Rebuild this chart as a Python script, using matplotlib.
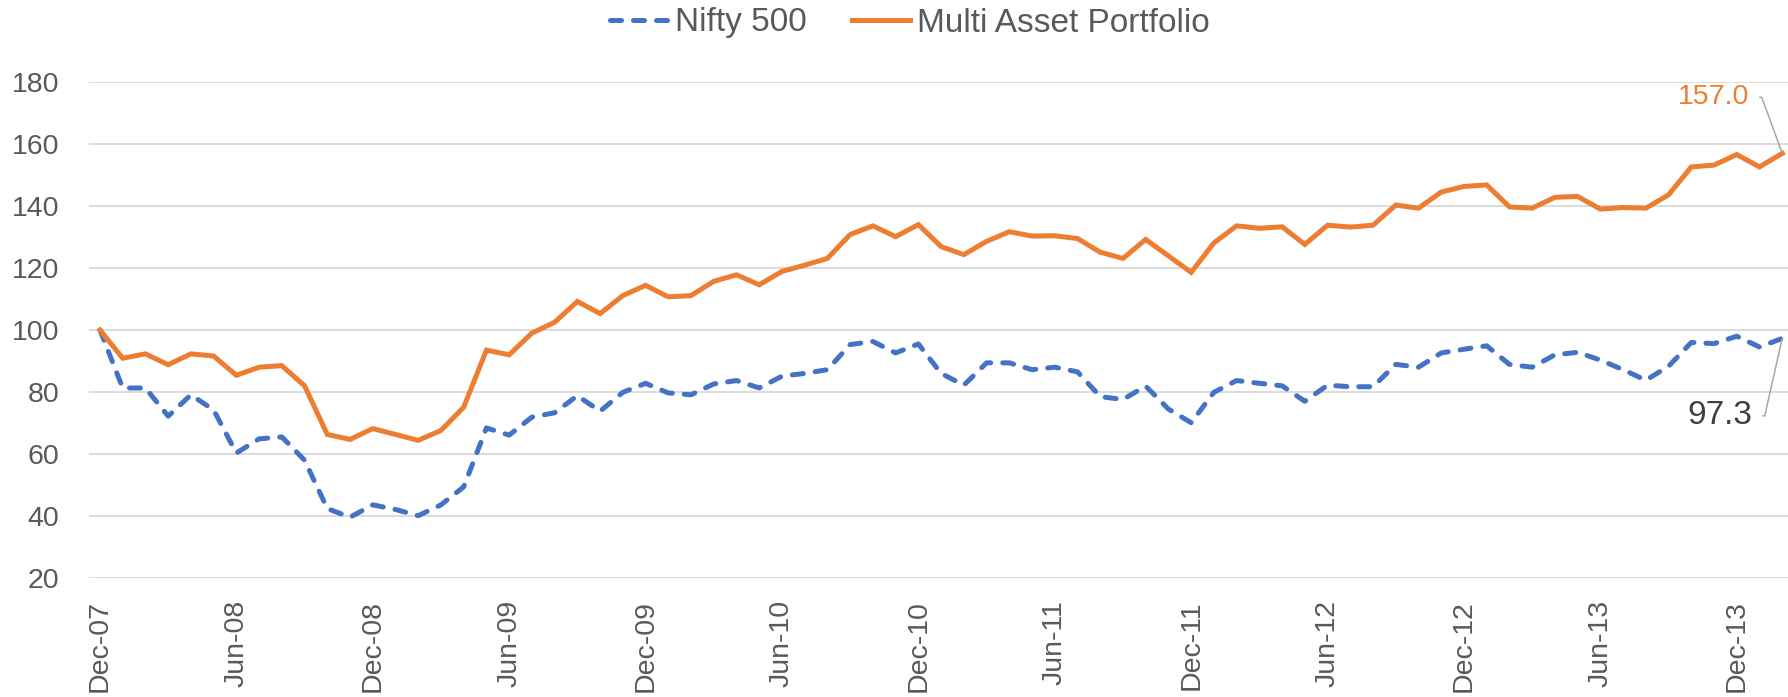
import matplotlib.pyplot as plt

# monthly index values, Dec-07 .. Feb-14
tick_labels = ["Dec-07", "Jun-08", "Dec-08", "Jun-09", "Dec-09", "Jun-10", "Dec-10",
               "Jun-11", "Dec-11", "Jun-12", "Dec-12", "Jun-13", "Dec-13"]

nifty500 = [100.0, 81.3, 81.3, 72.2, 79.1, 74.2, 60.3, 64.9, 65.5, 58.0,
            42.4, 39.6, 43.6, 42.1, 40.1, 43.6, 49.4, 68.4, 66.1, 71.9,
            73.3, 78.8, 73.8, 79.9, 82.8, 79.7, 79.1, 82.6, 83.7, 81.3,
            85.1, 86.0, 87.2, 95.3, 96.3, 92.6, 95.5, 86.0, 82.2, 89.4,
            89.4, 87.2, 88.0, 86.5, 78.5, 77.6, 81.9, 74.5, 70.1, 79.9,
            83.7, 82.8, 82.0, 77.0, 82.2, 81.7, 81.7, 88.9, 88.0, 92.6,
            93.8, 94.9, 88.9, 88.0, 92.0, 92.8, 90.3, 87.2, 83.8, 88.3,
            96.0, 95.6, 98.0, 94.5, 97.3]

multi_asset = [100.0, 90.9, 92.3, 88.8, 92.3, 91.6, 85.4, 88.0, 88.5, 82.0,
               66.3, 64.7, 68.2, 66.3, 64.4, 67.6, 75.1, 93.5, 92.0, 99.0,
               102.5, 109.2, 105.3, 111.1, 114.4, 110.7, 111.1, 115.7, 117.8, 114.6,
               118.9, 120.9, 123.1, 130.8, 133.6, 130.1, 134.0, 126.9, 124.3, 128.6,
               131.7, 130.3, 130.4, 129.5, 125.1, 123.1, 129.2, 123.9, 118.6, 128.1,
               133.6, 132.8, 133.3, 127.6, 133.8, 133.2, 133.8, 140.3, 139.3, 144.5,
               146.3, 146.8, 139.7, 139.3, 142.8, 143.1, 139.0, 139.5, 139.3, 143.6,
               152.6, 153.2, 156.6, 152.6, 157.0]

BLUE = "#4472C4"
ORANGE = "#ED7D31"
GREY = "#595959"

plt.rcParams["font.family"] = ["Liberation Sans", "DejaVu Sans"]

fig = plt.figure(figsize=(17.88, 6.97), dpi=100)
ax = fig.add_axes([88.6 / 1788, 1 - 578 / 697, (1793.6 - 88.6) / 1788, 496 / 697])

x = list(range(len(nifty500)))
ax.plot(x, nifty500, color=BLUE, lw=3.6, dashes=(2.2, 2.4),
        dash_capstyle="round", label="Nifty 500")
ax.plot(x, multi_asset, color=ORANGE, lw=3.6, solid_joinstyle="miter",
        label="Multi Asset Portfolio")

ax.set_xlim(-0.5, len(x) - 0.5)
ax.set_ylim(20, 180)
ax.set_yticks(range(20, 181, 20))
ax.set_xticks(range(0, 6 * len(tick_labels), 6))
ax.set_xticklabels(tick_labels, rotation=90)
ax.tick_params(axis="both", length=0, labelsize=20.5, labelcolor=GREY)
ax.tick_params(axis="y", pad=21)
ax.tick_params(axis="x", pad=16)
ax.grid(axis="y", color="#d9d9d9", lw=1.3)
ax.set_axisbelow(True)
for s in ax.spines.values():
    s.set_visible(False)

leader = dict(arrowstyle="-", color="#a6a6a6", lw=1.1, shrinkA=5.5, shrinkB=0,
              relpos=(1, 0.5), connectionstyle="arc,angleA=0,angleB=0,armA=12.5,armB=0,rad=0")
ax.annotate(f"{multi_asset[-1]:.1f}", (x[-1], multi_asset[-1]), xytext=(-33, 59),
            textcoords="offset pixels", ha="right", va="center_baseline", fontsize=20.5,
            color=ORANGE, arrowprops=leader, annotation_clip=False)
ax.annotate(f"{nifty500[-1]:.1f}", (x[-1], nifty500[-1]), xytext=(-30, -74),
            textcoords="offset pixels", ha="right", va="center_baseline", fontsize=24,
            color="#404040", arrowprops=leader, annotation_clip=False)

fig.legend(loc="center", bbox_to_anchor=(0.509, 1 - 23 / 697), ncol=2, frameon=False,
           fontsize=24, handlelength=1.75, handletextpad=0.2, columnspacing=1.35,
           labelcolor=GREY)

fig.savefig("out.png", dpi=100)
